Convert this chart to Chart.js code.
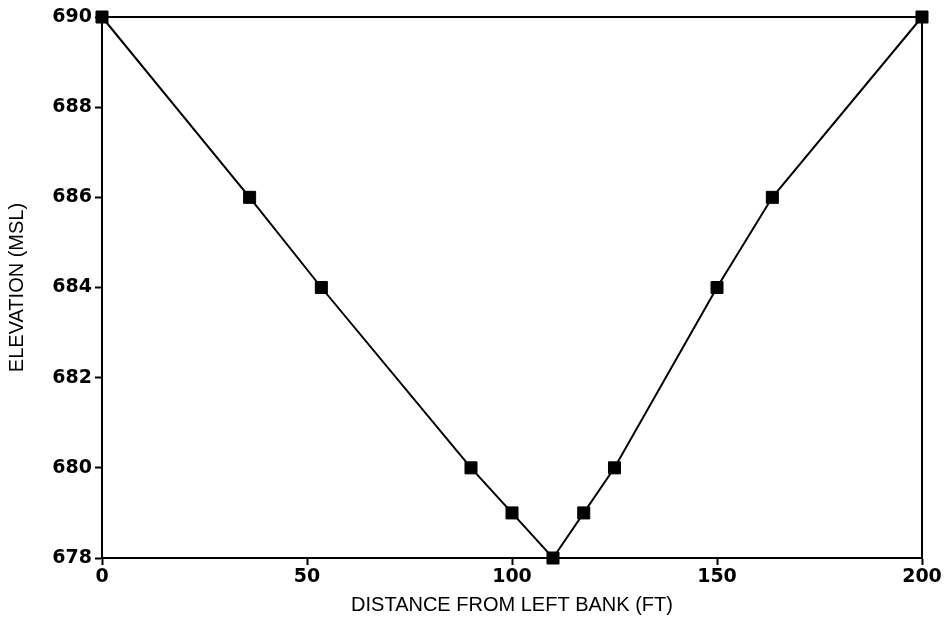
<!DOCTYPE html>
<html>
<head>
<meta charset="utf-8">
<script src="https://cdn.jsdelivr.net/npm/chart.js@4.4.0/dist/chart.umd.min.js"></script>
<style>
  html, body { margin: 0; padding: 0; background: #ffffff; }
  #wrap { width: 952px; height: 628px; }
</style>
</head>
<body>
<div id="wrap"><canvas id="c" width="952" height="628"></canvas></div>
<script>
// Channel cross-section survey points
const distanceFt = [0, 36, 53.5, 90, 100, 110, 117.5, 125, 150, 163.5, 200];
const elevationMsl = [690, 686, 684, 680, 679, 678, 679, 680, 684, 686, 690];

const xTicks = [0, 50, 100, 150, 200];
const yTicks = [678, 680, 682, 684, 686, 688, 690];

const xTitle = 'DISTANCE FROM LEFT BANK (FT)';
const yTitle = 'ELEVATION (MSL)';

const points = distanceFt.map((d, i) => ({ x: d, y: elevationMsl[i] }));

const tickFont = { family: '"DejaVu Sans", sans-serif', size: 19, weight: 'bold' };
const titleFont = { family: '"Liberation Sans", Arial, sans-serif', size: 20, weight: 'normal' };

// White page behind the plot, and the top/right sides of the plot frame
const frame = {
  id: 'frame',
  beforeDraw(chart) {
    const { ctx, width, height } = chart;
    ctx.save();
    ctx.fillStyle = '#ffffff';
    ctx.fillRect(0, 0, width, height);
    ctx.restore();
  },
  afterDatasetsDraw(chart) {
    const { ctx, chartArea: a } = chart;
    ctx.save();
    ctx.strokeStyle = '#000';
    ctx.lineWidth = 2;
    ctx.beginPath();
    ctx.moveTo(a.left, a.top);
    ctx.lineTo(a.right, a.top);
    ctx.lineTo(a.right, a.bottom);
    ctx.stroke();
    ctx.restore();
  }
};

new Chart(document.getElementById('c'), {
  type: 'line',
  data: {
    datasets: [{
      data: points,
      borderColor: '#000',
      borderWidth: 2,
      pointStyle: 'rect',
      pointRadius: 8.5,
      pointHoverRadius: 8.5,
      pointBackgroundColor: '#000',
      pointBorderColor: '#000',
      pointBorderWidth: 1,
      tension: 0,
      clip: false
    }]
  },
  options: {
    responsive: false,
    animation: false,
    events: [],
    layout: { padding: { left: 0, top: 17, right: 30, bottom: 0 } },
    plugins: { legend: { display: false }, tooltip: { enabled: false } },
    scales: {
      x: {
        type: 'linear',
        min: 0, max: 200,
        afterBuildTicks: s => { s.ticks = xTicks.map(v => ({ value: v })); },
        afterFit: s => { s.height = 70; },
        ticks: { color: '#000', font: tickFont, padding: 1, maxRotation: 0 },
        grid: { display: true, drawOnChartArea: false, drawTicks: true, tickLength: 7, tickWidth: 2, tickColor: '#000' },
        border: { display: true, color: '#000', width: 2 },
        title: { display: true, text: xTitle, color: '#000', font: titleFont, padding: { top: 2, bottom: 11 } }
      },
      y: {
        type: 'linear',
        min: 678, max: 690,
        afterBuildTicks: s => { s.ticks = yTicks.map(v => ({ value: v })); },
        afterFit: s => { s.width = 102; },
        ticks: { color: '#000', font: tickFont, padding: 3 },
        grid: { display: true, drawOnChartArea: false, drawTicks: true, tickLength: 7, tickWidth: 2, tickColor: '#000' },
        border: { display: true, color: '#000', width: 2 },
        title: { display: true, text: yTitle, color: '#000', font: titleFont, padding: { top: 5, bottom: 0 } }
      }
    }
  },
  plugins: [frame]
});
</script>
</body>
</html>
